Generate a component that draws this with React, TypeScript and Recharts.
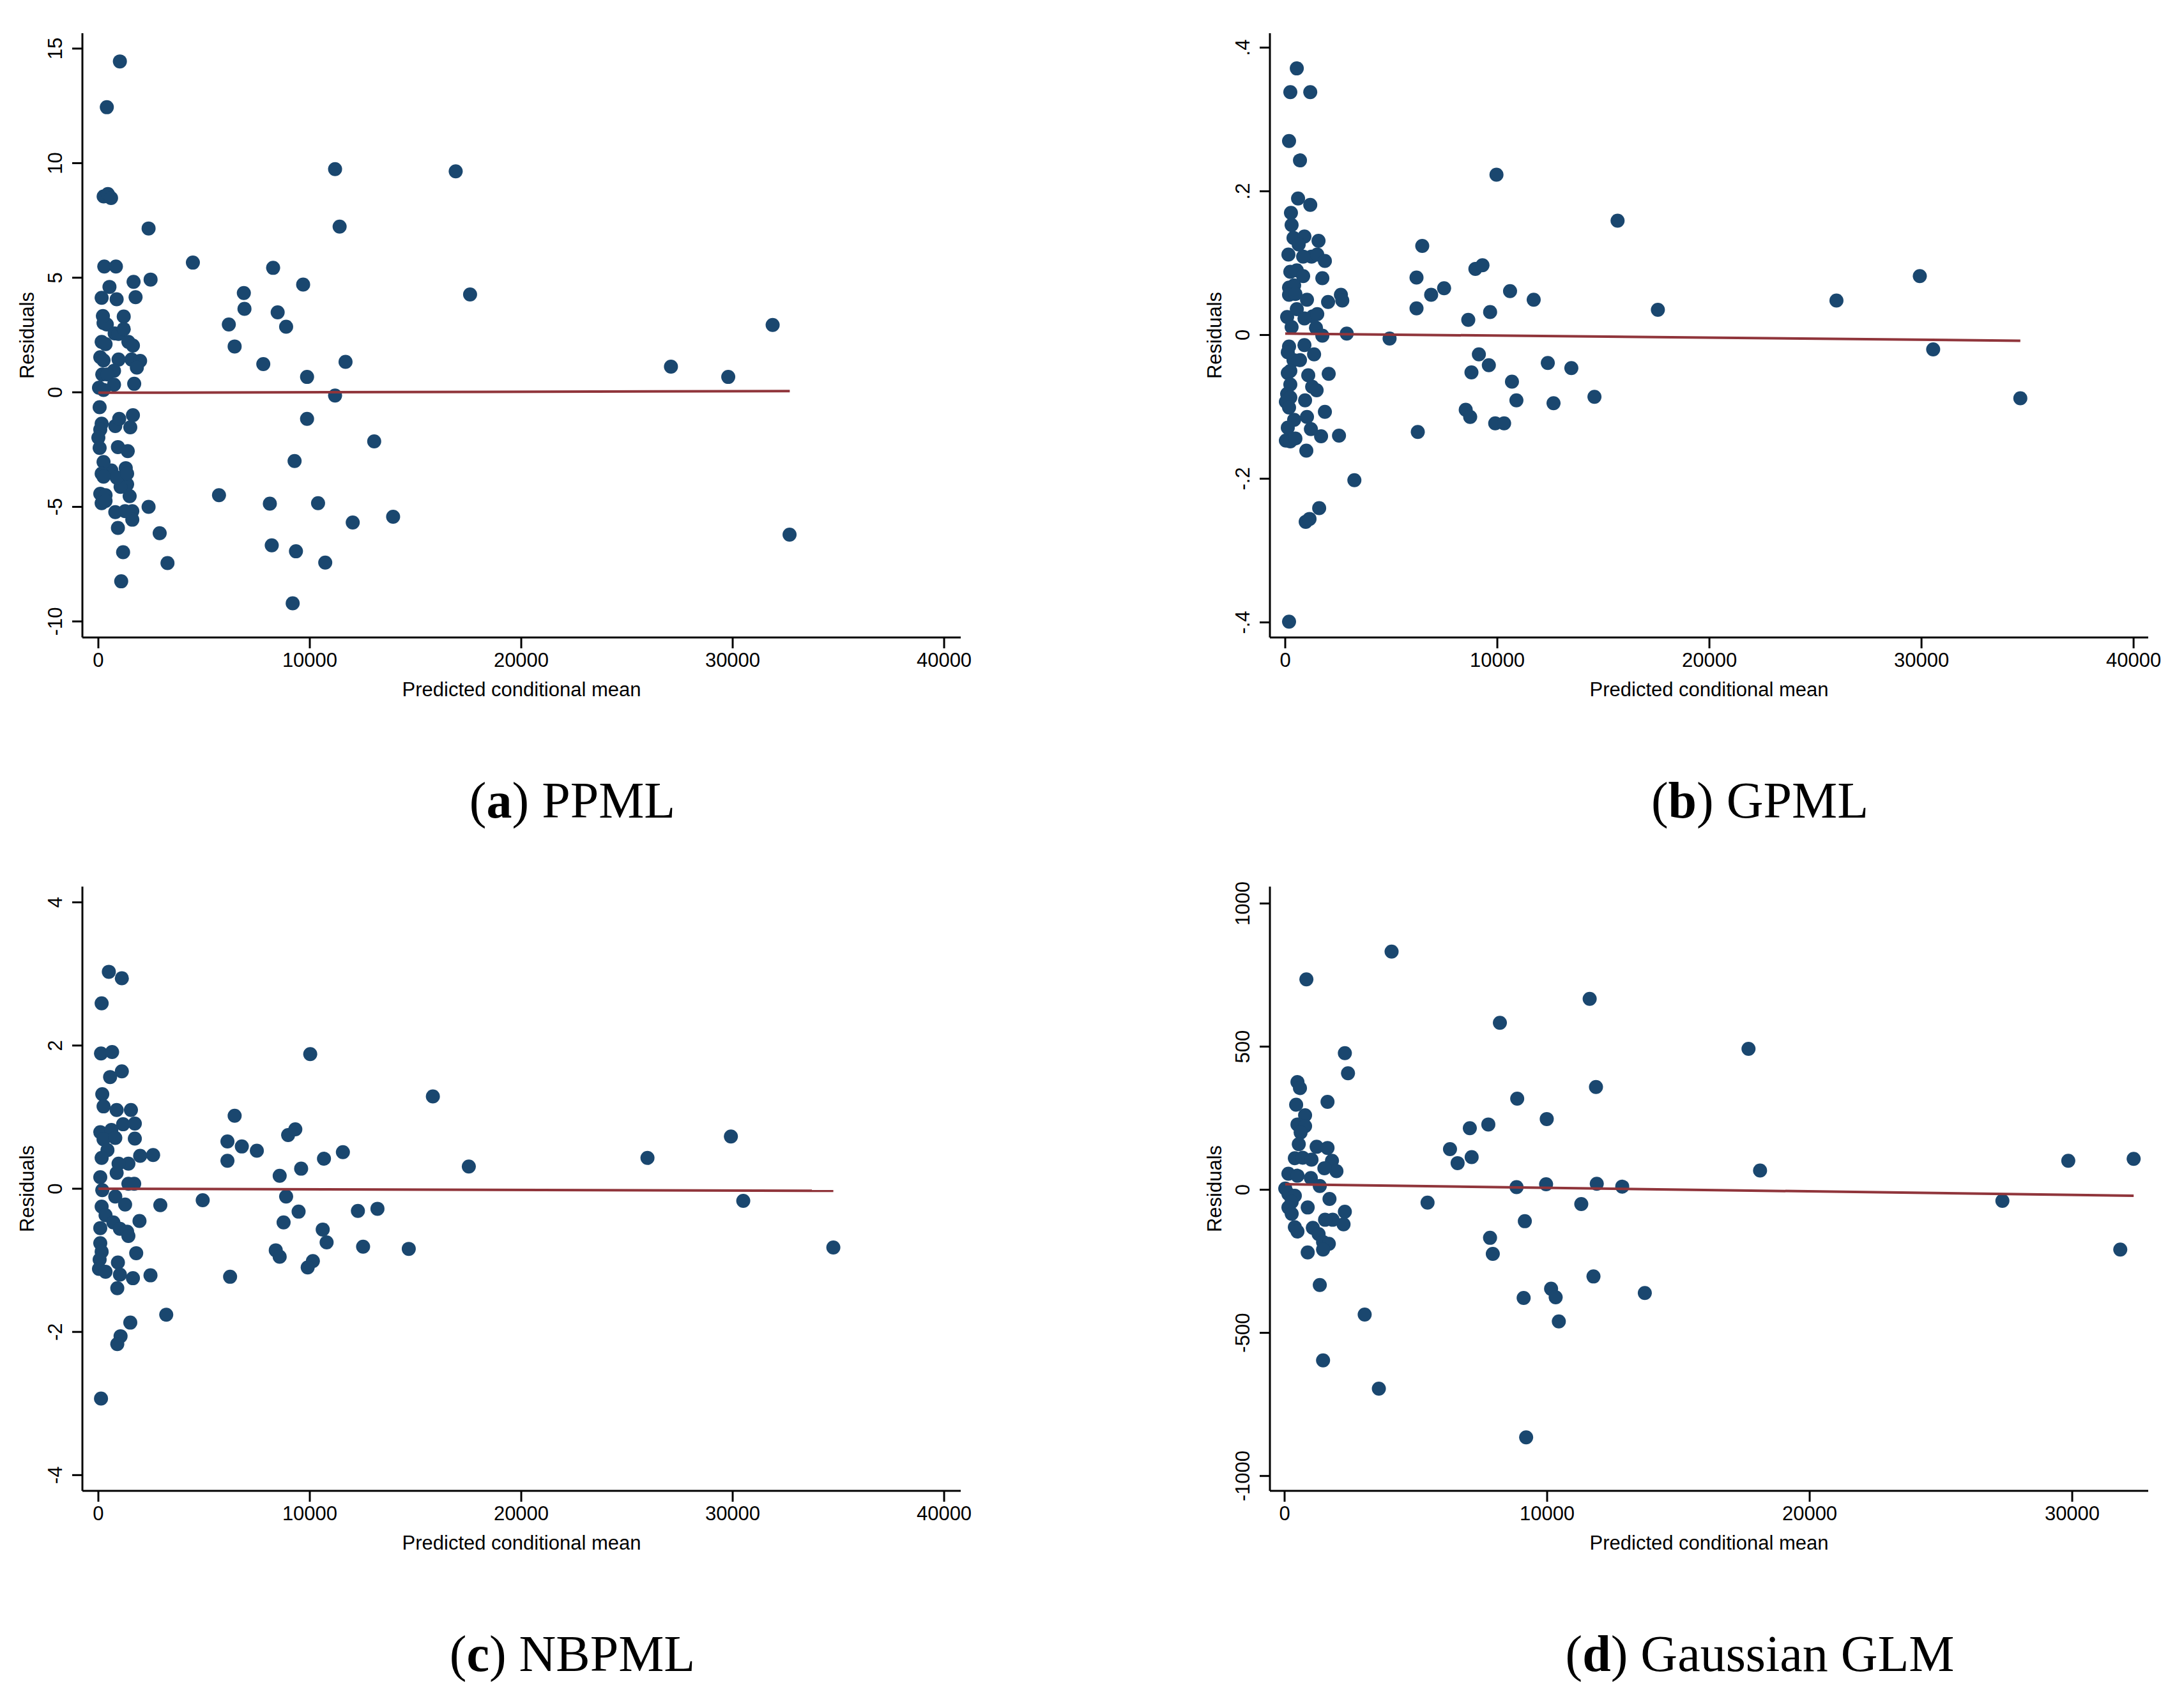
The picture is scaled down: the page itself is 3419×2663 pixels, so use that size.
import React from 'react';
import { ScatterChart, Scatter, XAxis, YAxis } from 'recharts';

const NAVY = '#1a476f';
const MAROON = '#90353b';
const SANS = '"Liberation Sans", Arial, sans-serif';
const SERIF = '"Liberation Serif", "Times New Roman", serif';

type Pair = [number, number];

// (a) PPML: [predicted mean, residual]
const ppml: Pair[] = [
  [1018, 14.44], [400, 12.44], [250, 8.55], [450, 8.65], [600, 8.48], [2375, 7.15], [280, 5.49], [830, 5.49],
  [1665, 4.82], [2470, 4.92], [4470, 5.66], [525, 4.6], [155, 4.12], [865, 4.06], [1760, 4.15], [6880, 4.33],
  [8265, 5.43], [9685, 4.7], [6910, 3.64], [8480, 3.49], [6170, 2.96], [8880, 2.86], [6445, 2.0], [7800, 1.23],
  [9870, 0.67], [11690, 1.33], [11195, 9.74], [11410, 7.23], [16900, 9.64], [17580, 4.27], [27080, 1.12],
  [29790, 0.67], [31890, 2.94], [11195, -0.14], [9870, -1.16], [13045, -2.14], [9280, -3.0], [5705, -4.49],
  [8110, -4.86], [10390, -4.84], [12030, -5.68], [13940, -5.43], [32690, -6.21], [8200, -6.68], [9345, -6.94],
  [10730, -7.43], [9190, -9.21], [2900, -6.15], [3270, -7.45], [2375, -5.0], [1080, -8.25], [1170, -6.98],
  [925, -5.92], [800, -5.23], [1605, -5.19], [1605, -5.56], [1265, -5.19], [1480, -4.53], [1360, -4.02],
  [1050, -4.13], [615, -3.41], [865, -3.72], [1295, -3.31], [1360, -3.55], [925, -2.39], [1390, -2.57],
  [800, -1.47], [985, -1.16], [1510, -1.53], [1635, -1.0], [60, -0.65], [155, -1.37], [90, -1.63], [0, -1.98],
  [60, -2.43], [245, -3.04], [155, -3.55], [245, -3.68], [90, -4.43], [340, -4.49], [155, -4.84], [340, -4.74],
  [30, 0.2], [185, 0.78], [90, 1.53], [245, 1.39], [155, 2.2], [245, 3.02], [400, 2.96], [215, 3.33],
  [340, 2.1], [770, 2.57], [955, 2.55], [1200, 3.31], [1200, 2.76], [1420, 2.2], [1635, 2.04], [1570, 1.43],
  [955, 1.43], [1975, 1.37], [1820, 1.08], [740, 0.94], [430, 0.78], [740, 0.33], [1695, 0.37], [245, 0.1],
];
const ppmlFit: Pair[] = [[0, -0.02], [32700, 0.05]];

// (b) GPML
const gpml: Pair[] = [
  [545, 0.371], [240, 0.338], [1180, 0.338], [180, 0.27], [695, 0.243], [605, 0.19], [1180, 0.181], [270, 0.17],
  [300, 0.153], [390, 0.135], [905, 0.137], [1570, 0.131], [150, 0.112], [635, 0.126], [1240, 0.109],
  [1510, 0.112], [1870, 0.103], [845, 0.109], [240, 0.088], [545, 0.09], [845, 0.082], [1750, 0.079],
  [180, 0.066], [420, 0.069], [180, 0.056], [480, 0.057], [1025, 0.049], [2020, 0.046], [2625, 0.056],
  [2690, 0.048], [90, 0.025], [300, 0.011], [545, 0.036], [905, 0.023], [1300, 0.026], [1510, 0.029],
  [1450, 0.01], [1750, -0.001], [2900, 0.002], [4920, -0.005], [6190, 0.08], [6460, 0.124], [6190, 0.037],
  [6880, 0.056], [7490, 0.065], [8965, 0.092], [9300, 0.097], [9960, 0.223], [8630, 0.021], [9660, 0.032],
  [10600, 0.061], [11715, 0.049], [15670, 0.159], [17570, 0.035], [25990, 0.048], [29920, 0.082],
  [30550, -0.02], [34660, -0.088], [9130, -0.027], [8780, -0.052], [9600, -0.042], [10690, -0.065],
  [10900, -0.091], [12380, -0.039], [13490, -0.046], [12650, -0.095], [14580, -0.086], [8510, -0.104],
  [8720, -0.114], [9900, -0.123], [10320, -0.123], [6250, -0.135], [3260, -0.202], [2535, -0.14],
  [1600, -0.241], [965, -0.26], [1145, -0.256], [180, -0.399], [1690, -0.141], [995, -0.161], [1210, -0.131],
  [1025, -0.114], [1870, -0.107], [420, -0.118], [935, -0.091], [1085, -0.056], [1270, -0.072], [1480, -0.077],
  [2050, -0.054], [1360, -0.027], [905, -0.014], [695, -0.035], [390, -0.035], [180, -0.016], [120, -0.024],
  [240, -0.05], [120, -0.053], [240, -0.069], [90, -0.082], [240, -0.087], [30, -0.093], [180, -0.101],
  [120, -0.129], [30, -0.147], [240, -0.148], [480, -0.144],
];
const gpmlFit: Pair[] = [[0, 0.002], [34660, -0.008]];

// (c) NBPML
const nbpml: Pair[] = [
  [495, 3.03], [1110, 2.94], [155, 2.59], [125, 1.89], [650, 1.91], [10020, 1.88], [1110, 1.64], [555, 1.56],
  [185, 1.32], [15820, 1.29], [245, 1.15], [865, 1.1], [1540, 1.1], [6445, 1.02], [1170, 0.9], [1725, 0.91],
  [90, 0.79], [615, 0.82], [245, 0.69], [800, 0.71], [1725, 0.7], [430, 0.54], [155, 0.43], [1975, 0.46],
  [2590, 0.47], [6105, 0.66], [6785, 0.59], [7495, 0.53], [8975, 0.75], [9315, 0.83], [10670, 0.42],
  [11565, 0.51], [17520, 0.31], [25970, 0.43], [29915, 0.73], [6105, 0.39], [9590, 0.28], [8575, 0.18],
  [90, 0.16], [1420, 0.35], [955, 0.35], [865, 0.22], [1695, 0.07], [1420, 0.07], [185, -0.02], [800, -0.11],
  [1265, -0.22], [2930, -0.23], [4935, -0.16], [8880, -0.11], [9470, -0.32], [12275, -0.31], [13200, -0.28],
  [30500, -0.17], [155, -0.25], [340, -0.37], [90, -0.55], [710, -0.47], [1020, -0.56], [1360, -0.6],
  [1420, -0.66], [1945, -0.45], [8760, -0.47], [10610, -0.57], [10795, -0.75], [12520, -0.81], [14680, -0.84],
  [8390, -0.86], [8575, -0.95], [34760, -0.82], [90, -0.76], [155, -0.88], [60, -0.99], [1790, -0.9],
  [925, -1.03], [30, -1.12], [340, -1.16], [1020, -1.2], [1635, -1.25], [2465, -1.21], [10145, -1.01],
  [9900, -1.1], [6230, -1.23], [895, -1.39], [3210, -1.76], [1510, -1.87], [1050, -2.06], [895, -2.17],
  [125, -2.93],
];
const nbpmlFit: Pair[] = [[0, 0.0], [34760, -0.03]];

// (d) Gaussian GLM
const glm: Pair[] = [
  [4075, 832], [830, 735], [11620, 667], [8200, 583], [17670, 492], [2295, 477], [2415, 407], [490, 376],
  [585, 355], [11860, 359], [8860, 318], [1635, 307], [440, 297], [780, 260], [9985, 247], [490, 228],
  [780, 222], [7055, 215], [7760, 228], [610, 200], [540, 159], [1220, 150], [1635, 146], [6300, 142],
  [7125, 114], [6590, 93], [390, 110], [685, 112], [1025, 105], [1805, 101], [1975, 65], [18110, 67],
  [29850, 101], [32340, 108], [1515, 75], [145, 56], [490, 49], [1000, 41], [1340, 13], [8835, 9],
  [9960, 19], [11890, 21], [12860, 11], [25, 4], [145, -15], [390, -21], [270, -43], [145, -62], [270, -84],
  [880, -62], [1710, -32], [5445, -45], [11300, -50], [27340, -39], [9150, -110], [2295, -77], [2245, -121],
  [1830, -105], [1540, -105], [390, -131], [490, -146], [1075, -133], [1295, -155], [1465, -183],
  [1685, -189], [1465, -209], [880, -219], [7825, -168], [7930, -224], [31830, -209], [11765, -303],
  [1340, -333], [10150, -346], [10325, -376], [9105, -378], [13720, -361], [10445, -460], [3050, -436],
  [1465, -596], [3590, -695], [9200, -865],
];
const glmFit: Pair[] = [[25, 19], [32340, -21]];

const xTicks40 = [0, 10000, 20000, 30000, 40000];
const xTicks30 = [0, 10000, 20000, 30000];
const ppmlTicks = [-10, -5, 0, 5, 10, 15];
const gpmlTicks = [-0.4, -0.2, 0, 0.2, 0.4];
const nbpmlTicks = [-4, -2, 0, 2, 4];
const glmTicks = [-1000, -500, 0, 500, 1000];

// geometry (px)
const Y_W = 129;
const PLOT_W = 1375;
const PLOT_H = 946;
const X_H = 130;
const M_TOP = 52;
const M_RIGHT = 50;

const toPoints = (pairs: Pair[]) => pairs.map(([x, y]) => ({ x, y }));
const stataFmt = (v: number) => (v === 0 ? '0' : String(v).replace('0.', '.'));
const plainFmt = (v: number) => String(v);

function Dot(props: any) {
  const { cx, cy } = props;
  if (cx == null || cy == null) return null;
  return <circle cx={cx} cy={cy} r={11} fill={NAVY} />;
}

function NoDot() {
  return null;
}

function makeYTick(fmt: (v: number) => string) {
  return (props: any) => {
    const { x, y, payload } = props;
    return (
      <text
        x={x}
        y={y}
        transform={`rotate(-90 ${x} ${y})`}
        textAnchor="middle"
        fontSize={31}
        fontFamily={SANS}
        fill="#000"
      >
        {fmt(payload.value)}
      </text>
    );
  };
}

interface PanelProps {
  left: number;
  top: number;
  points: Pair[];
  fit: Pair[];
  xDomain: [number, number];
  xTicks: number[];
  yDomain: [number, number];
  yTicks: number[];
  yFmt: (v: number) => string;
}

function Panel({ left, top, points, fit, xDomain, xTicks, yDomain, yTicks, yFmt }: PanelProps) {
  const axisStyle = { stroke: '#000', strokeWidth: 3 };
  return (
    <div style={{ position: 'absolute', left, top }}>
      <ScatterChart
        width={Y_W + PLOT_W + M_RIGHT}
        height={M_TOP + PLOT_H + X_H}
        margin={{ top: M_TOP, right: M_RIGHT, bottom: 0, left: 0 }}
      >
        <XAxis
          type="number"
          dataKey="x"
          domain={xDomain}
          ticks={xTicks}
          allowDataOverflow
          interval={0}
          height={X_H}
          tickSize={17}
          tickMargin={7}
          axisLine={axisStyle}
          tickLine={axisStyle}
          tick={{ fill: '#000', fontSize: 31, fontFamily: SANS }}
        />
        <YAxis
          type="number"
          dataKey="y"
          domain={yDomain}
          ticks={yTicks}
          allowDataOverflow
          interval={0}
          width={Y_W}
          tickSize={16}
          tickMargin={16}
          axisLine={axisStyle}
          tickLine={axisStyle}
          tick={makeYTick(yFmt)}
        />
        <Scatter data={toPoints(points)} shape={Dot} fill={NAVY} isAnimationActive={false} />
        <Scatter
          data={toPoints(fit)}
          shape={NoDot}
          fill={MAROON}
          line={{ stroke: MAROON, strokeWidth: 4 }}
          isAnimationActive={false}
        />
      </ScatterChart>
    </div>
  );
}

const panels = [
  { ox: 0, oy: 0, letter: 'a', name: 'PPML' },
  { ox: 1859, oy: 0, letter: 'b', name: 'GPML' },
  { ox: 0, oy: 1336, letter: 'c', name: 'NBPML' },
  { ox: 1859, oy: 1336, letter: 'd', name: 'Gaussian GLM' },
];

export default function App() {
  return (
    <div style={{ position: 'absolute', left: 0, top: 0, width: 3419, height: 2663, background: '#fff' }}>
      <Panel left={0} top={0} points={ppml} fit={ppmlFit} xDomain={[-755, 40785]} xTicks={xTicks40}
        yDomain={[-10.7, 15.67]} yTicks={ppmlTicks} yFmt={plainFmt} />
      <Panel left={1859} top={0} points={gpml} fit={gpmlFit} xDomain={[-723, 40690]} xTicks={xTicks40}
        yDomain={[-0.421, 0.42]} yTicks={gpmlTicks} yFmt={stataFmt} />
      <Panel left={0} top={1336} points={nbpml} fit={nbpmlFit} xDomain={[-755, 40785]} xTicks={xTicks40}
        yDomain={[-4.22, 4.22]} yTicks={nbpmlTicks} yFmt={plainFmt} />
      <Panel left={1859} top={1336} points={glm} fit={glmFit} xDomain={[-560, 32895]} xTicks={xTicks30}
        yDomain={[-1052, 1059]} yTicks={glmTicks} yFmt={plainFmt} />

      <svg
        width={3419}
        height={2663}
        style={{ position: 'absolute', left: 0, top: 0, pointerEvents: 'none' }}
      >
        {panels.map((p) => (
          <g key={p.letter}>
            <text x={p.ox + Y_W + PLOT_W / 2} y={p.oy + 1090} textAnchor="middle" fontSize={31} fontFamily={SANS} fill="#000">
              Predicted conditional mean
            </text>
            <text
              x={p.ox + 53}
              y={p.oy + M_TOP + PLOT_H / 2}
              transform={`rotate(-90 ${p.ox + 53} ${p.oy + M_TOP + PLOT_H / 2})`}
              textAnchor="middle"
              fontSize={31}
              fontFamily={SANS}
              fill="#000"
            >
              Residuals
            </text>
            <text x={p.ox + 896} y={p.oy + 1280} textAnchor="middle" fontSize={80} fontFamily={SERIF} fill="#000">
              (<tspan fontWeight="bold">{p.letter}</tspan>) {p.name}
            </text>
          </g>
        ))}
      </svg>
    </div>
  );
}
